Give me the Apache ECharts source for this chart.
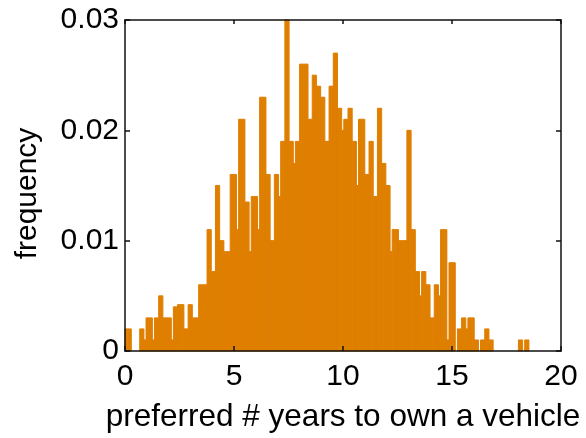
<!DOCTYPE html>
<html><head><meta charset="utf-8">
<script src="https://cdn.jsdelivr.net/npm/echarts@6/dist/echarts.min.js"></script>
<style>html,body{margin:0;padding:0;background:#fff}#c{width:586px;height:438px}</style>
</head><body><div id="c"></div>
<script>
// histogram bin width (years) and bin frequencies, bins start at 0
const binWidth = 0.0965;
const freq = [
  0.002,0.002,0.002,0,0,0,0,0.002,0.002,0.001,
  0.003,0.003,0.003,0.001,0.003,0.003,0.005,0.005,0.003,0.003,
  0.003,0.003,0.001,0.004,0.004,0.0042,0.0042,0.0042,0.002,0.002,
  0.0042,0.0042,0.003,0.003,0.003,0.006,0.006,0.006,0.006,0.011,
  0.011,0.0072,0.0072,0.015,0.015,0.010,0.010,0.009,0.009,0.009,
  0.016,0.016,0.016,0.011,0.021,0.021,0.021,0.0135,0.0135,0.009,
  0.014,0.014,0.014,0.011,0.023,0.023,0.023,0.016,0.016,0.010,
  0.010,0.016,0.016,0.014,0.019,0.019,0.030,0.030,0.019,0.019,
  0.017,0.019,0.019,0.026,0.026,0.026,0.026,0.021,0.021,0.025,
  0.025,0.024,0.024,0.023,0.023,0.019,0.019,0.024,0.024,0.027,
  0.027,0.022,0.022,0.020,0.021,0.021,0.022,0.022,0.019,0.019,
  0.015,0.021,0.021,0.021,0.016,0.016,0.019,0.019,0.014,0.014,
  0.022,0.022,0.017,0.017,0.015,0.015,0.009,0.011,0.011,0.011,
  0.010,0.010,0.010,0.010,0.020,0.020,0.011,0.011,0.0072,0.0072,
  0.005,0.0072,0.0072,0.006,0.006,0.003,0.003,0.006,0.006,0.005,
  0.011,0.011,0.011,0.001,0.008,0.008,0.008,0,0.002,0.002,
  0.003,0.003,0.002,0.003,0.003,0.003,0.001,0.001,0,0.001,
  0.001,0.002,0.002,0.001,0.001,0,0,0,0,0,
  0,0,0,0,0,0,0,0.001,0.001,0,
  0.001,0.001
];
const xTicks = [0, 5, 10, 15, 20];
const yTicks = [0, 0.01, 0.02, 0.03];
const xTitle = 'preferred # years to own a vehicle';
const yTitle = 'frequency';

const FONT = '"Liberation Sans", Arial, Helvetica, sans-serif';
const BAR = '#DF7F00';
const AX = '#111';

const data = freq.map((v, i) => [i * binWidth, (i + 1) * binWidth, v]);

const chart = echarts.init(document.getElementById('c'), null, {renderer: 'canvas'});
const lineStyle = {color: AX, width: 1.5};
chart.setOption({
  animation: false,
  backgroundColor: '#fff',
  grid: {left: 125, right: 25, top: 20, bottom: 76, containLabel: false},
  xAxis: [{
    type: 'value', min: xTicks[0], max: xTicks[xTicks.length - 1], interval: 5,
    position: 'bottom', z: 5,
    axisLine: {show: true, onZero: false, lineStyle},
    axisTick: {show: true, inside: true, length: 5, lineStyle},
    splitLine: {show: false},
    axisLabel: {fontSize: 30, fontFamily: FONT, color: '#000', margin: 11},
    name: xTitle, nameLocation: 'middle', nameGap: 50,
    nameTextStyle: {fontSize: 31.5, fontFamily: FONT, color: '#000'}
  }, {
    type: 'value', min: xTicks[0], max: xTicks[xTicks.length - 1], interval: 5,
    position: 'top', z: 5,
    axisLine: {show: true, onZero: false, lineStyle},
    axisTick: {show: true, inside: true, length: 4, lineStyle},
    splitLine: {show: false}, axisLabel: {show: false}
  }],
  yAxis: [{
    type: 'value', min: yTicks[0], max: yTicks[yTicks.length - 1], interval: 0.01,
    position: 'left', z: 5,
    axisLine: {show: true, onZero: false, lineStyle},
    axisTick: {show: true, inside: true, length: 5, lineStyle},
    splitLine: {show: false},
    axisLabel: {fontSize: 30, fontFamily: FONT, color: '#000', margin: 6,
      formatter: v => String(+v.toFixed(2))},
    name: yTitle, nameLocation: 'middle', nameGap: 82, nameRotate: 90,
    nameTextStyle: {fontSize: 30, fontFamily: FONT, color: '#000', padding: [0, 16, 0, 0]}
  }, {
    type: 'value', min: yTicks[0], max: yTicks[yTicks.length - 1], interval: 0.01,
    position: 'right', z: 5,
    axisLine: {show: true, onZero: false, lineStyle},
    axisTick: {show: true, inside: true, length: 5, lineStyle},
    splitLine: {show: false}, axisLabel: {show: false}
  }],
  series: [{
    type: 'custom',
    xAxisIndex: 0, yAxisIndex: 0, z: 1,
    encode: {x: [0, 1], y: 2},
    data: data,
    renderItem: function (params, api) {
      const v = api.value(2);
      if (!v) return null;
      const p0 = api.coord([api.value(0), v]);
      const p1 = api.coord([api.value(1), 0]);
      return {
        type: 'rect',
        shape: {x: p0[0], y: p0[1], width: p1[0] - p0[0], height: p1[1] - p0[1]},
        style: {fill: BAR, stroke: BAR, lineWidth: 1}
      };
    }
  }]
});
</script></body></html>
